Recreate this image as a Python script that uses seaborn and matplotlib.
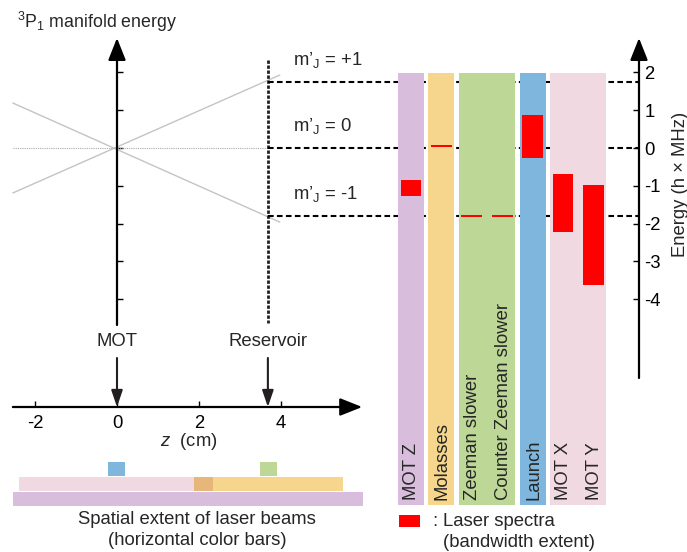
import matplotlib
matplotlib.use("Agg")
import matplotlib.pyplot as plt
import matplotlib.colors as mcolors
import numpy as np
import pandas as pd
import seaborn as sns

sns.set_theme(style="white")
plt.rcParams['font.family'] = ['Liberation Sans', 'DejaVu Sans']
plt.rcParams['axes.unicode_minus'] = False
plt.rcParams['mathtext.fontset'] = 'custom'
plt.rcParams['mathtext.rm'] = 'Liberation Sans'
plt.rcParams['mathtext.it'] = 'Liberation Sans:italic'

# ---- data ----
# Zeeman-shifted sublevels along z (cm -> MHz)
zeeman_z = [-2.54, 3.97]
zeeman_plus = [-1.19, 1.93]
zeeman_minus = [1.19, -1.96]
level_energy = [1.75, 0.0, -1.80]
level_labels = ["+1", "0", "-1"]
z_mot = 0.0
z_reservoir = 3.68
z_ticks = [-2, 0, 2, 4]
e_ticks = [2, 1, 0, -1, -2, -3, -4]

# laser spectra per beam (MHz)
beam_names = ["MOT Z", "Molasses", "Zeeman slower", "Counter Zeeman slower",
              "Launch", "MOT X", "MOT Y"]
spec_low = [-1.27, 0.03, -1.83, -1.83, -0.27, -2.22, -3.62]
spec_high = [-0.85, 0.09, -1.77, -1.77, 0.87, -0.69, -0.98]

# beam groups (vertical colour columns)
group_first = [0, 1, 2, 4, 5]
group_last = [0, 1, 3, 4, 6]
group_colors = ["#d8bedc", "#f5d68c", "#bdd797", "#7fb6de", "#f0d9e0"]

# spatial extent of beams along z (cm)
spatial_start = [-0.22, 3.49, -2.39, 1.88, -2.54]
spatial_end = [0.20, 3.90, 2.34, 5.51, 6.00]
spatial_row = [0, 0, 1, 1, 2]
spatial_group = [3, 2, 4, 1, 0]

# ---- layout (pixels of the 687x552 canvas) ----
W, H = 687, 552
Z0_PX, PX_CM = 117, 41.0
E0_PX, PX_MHZ = 148, 37.8
S0_PX, PX_SLOT = 411, 30.4
FS = 13.3

def e_of(py):
    return (E0_PX - py) / PX_MHZ

E_ZAXIS = e_of(407)
ink = "#231f20"

fig = plt.figure(figsize=(W / 100, H / 100), dpi=100)
ax = fig.add_axes([0, 0, 1, 1])
ax.set_facecolor("none")
ax.set_xlim(-Z0_PX / PX_CM, (W - Z0_PX) / PX_CM)
ax.set_ylim(e_of(H), e_of(0))
ax_r = fig.add_axes([0, 0, 1, 1])
ax_r.set_facecolor("none")
ax_r.set_xlim(-S0_PX / PX_SLOT, (W - S0_PX) / PX_SLOT)
ax_r.set_ylim(e_of(H), e_of(0))
for a in (ax, ax_r):
    for s in a.spines.values():
        s.set_visible(False)

# ---- left: Zeeman diagram ----
zdf = pd.DataFrame({"z": zeeman_z * 2,
                    "energy": zeeman_plus + zeeman_minus,
                    "state": ["+1"] * 2 + ["-1"] * 2})
sns.lineplot(data=zdf, x="z", y="energy", units="state", estimator=None,
             color="#c4c4c4", lw=1, ax=ax, legend=False)
ax.plot([zeeman_z[0], z_reservoir], [0, 0], color="#a8a8a8", lw=0.8,
        ls=(0, (1, 1)))
ax.set_xlabel("")
ax.set_ylabel("")

arrow = dict(arrowstyle="-|>,head_length=0.68,head_width=0.27", lw=1.6,
             color="black", shrinkA=0, shrinkB=0, mutation_scale=20)
ax.annotate("", xy=(5.98, E_ZAXIS), xytext=(-2.54, E_ZAXIS), arrowprops=arrow)
ax.annotate("", xy=(0, e_of(38)), xytext=(0, e_of(325)), arrowprops=arrow)

ax.set_xticks(z_ticks)
ax.set_xticklabels([str(t) for t in z_ticks])
ax.spines['bottom'].set_position(('data', E_ZAXIS))
ax.tick_params(axis='x', bottom=True, direction='in', length=4, width=1,
               color='black', pad=6, labelsize=FS, labelcolor='black')
ax.set_yticks(e_ticks)
ax.spines['left'].set_position(('data', 0))
ax.tick_params(axis='y', left=True, direction='in', length=4, width=1,
               color='black', labelleft=False)
ax.text(1.74, e_of(446), "$z$  (cm)", ha="center", va="baseline", fontsize=FS)

# reservoir marker
ax.plot([z_reservoir, z_reservoir], [e_of(60), e_of(323)], color=ink, lw=2,
        ls=(0, (1.2, 0.6)))
small_arrow = dict(arrowstyle="-|>,head_length=0.5,head_width=0.17", lw=1.5,
                   color=ink, shrinkA=0, shrinkB=0, mutation_scale=20)
for zpos, name in [(z_mot, "MOT"), (z_reservoir, "Reservoir")]:
    ax.annotate("", xy=(zpos, E_ZAXIS), xytext=(zpos, e_of(358)),
                arrowprops=small_arrow)
    ax.text(zpos, e_of(341), name, ha="center", va="center", fontsize=FS)

# sublevel energies at reservoir
ax.hlines(level_energy, z_reservoir, (639 - Z0_PX) / PX_CM, color="black",
          lw=1.5, ls=(0, (2.7, 1.6)), zorder=5)
for e, lab in zip(level_energy, level_labels):
    ax.text(4.3, e + 0.32, "m\u2019$\\mathregular{_J}$ = " + lab,
            ha="left", va="bottom", fontsize=FS)

ax.text(-2.45, e_of(22), "$\\mathregular{^3}$P$\\mathregular{_1}$ manifold energy",
        ha="left", va="center", fontsize=12.8)

# spatial extent bars
row_e = [e_of(469), e_of(484), e_of(499)]
bar_h = 14 / PX_MHZ
for s, e, r, g in zip(spatial_start, spatial_end, spatial_row, spatial_group):
    ax.barh(row_e[r], e - s, left=s, height=bar_h, color=group_colors[g], lw=0)
# overlap of MOT X/Y and molasses beams
ov_s, ov_e = max(spatial_start[2], spatial_start[3]), min(spatial_end[2], spatial_end[3])
c1 = np.array(mcolors.to_rgb(group_colors[4]))
c2 = np.array(mcolors.to_rgb(group_colors[1]))
ax.barh(row_e[1], ov_e - ov_s, left=ov_s, height=bar_h, color=c1 * c2, lw=0)
ax.text(1.95, e_of(530), "Spatial extent of laser beams\n(horizontal color bars)",
        ha="center", va="center", fontsize=FS, linespacing=1.3)

# ---- right: beam columns and laser spectra ----
slots = np.arange(len(beam_names))
for f, l, c in zip(group_first, group_last, group_colors):
    ax_r.bar((f + l) / 2, e_of(73) - e_of(505), bottom=e_of(505),
             width=(l - f) + 0.86, color=c, lw=0, zorder=1)
ax_r.bar(slots, np.array(spec_high) - np.array(spec_low), bottom=spec_low,
         width=0.69, color="red", lw=0, zorder=2)
for x, name in zip(slots, beam_names):
    ax_r.text(x + 0.03, e_of(500), name, rotation=90, ha="center",
              va="bottom", fontsize=FS, zorder=3)

ax_r.annotate("", xy=(7.5, e_of(38)), xytext=(7.5, e_of(378)),
              arrowprops=arrow)
ax_r.set_xticks([])
ax_r.set_yticks(e_ticks)
ax_r.set_yticklabels([str(t) for t in e_ticks])
ax_r.spines['right'].set_position(('data', 7.5))
ax_r.yaxis.tick_right()
ax_r.tick_params(axis='y', right=True, left=False, labelright=True,
                 labelleft=False, direction='in', length=4.5, width=1,
                 color='black', pad=4, labelsize=FS, labelcolor='black')
ax_r.text((680 - S0_PX) / PX_SLOT, e_of(184), "Energy (h \u00d7 MHz)",
          rotation=90, ha="center", va="center", fontsize=FS)

# legend for red spectra
ax_r.bar(-0.045, e_of(515) - e_of(527), bottom=e_of(527), width=0.69,
         color="red", lw=0)
ax_r.text(0.69, e_of(521), ":", ha="left", va="center", fontsize=FS)
ax_r.text(1.05, e_of(532), "Laser spectra\n(bandwidth extent)", ha="left",
          va="center", fontsize=FS, linespacing=1.3)

fig.savefig("out.png", dpi=100)
